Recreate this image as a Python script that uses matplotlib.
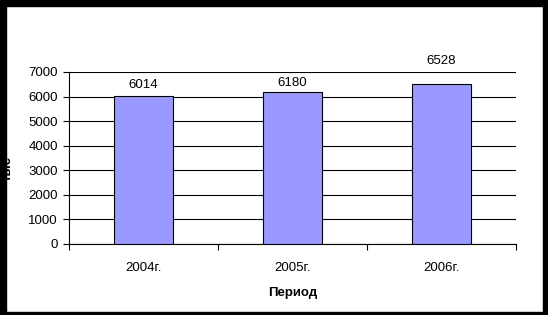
import matplotlib.pyplot as plt
from matplotlib.patches import Rectangle
import numpy as np

plt.rcParams['font.family'] = ['Liberation Sans', 'DejaVu Sans']

periods = ['2004г.', '2005г.', '2006г.']
values = [6014, 6180, 6528]
yticks = [0, 1000, 2000, 3000, 4000, 5000, 6000, 7000]

# gap (pixels) between bar top and its value label, as placed in the original
label_gap = [8, 6, 20]

W, H = 548, 315
fig = plt.figure(figsize=(W / 100, H / 100), dpi=100)
fig.patch.set_facecolor('white')

# plot area in pixels: x 69..516, y 72..244
ax = fig.add_axes([69 / W, (H - 244) / H, 447 / W, 172 / H])

x = np.arange(len(periods))
ax.bar(x, values, width=0.4, color='#9999FF', edgecolor='black', linewidth=0.8, zorder=3)

fs = 9.5
for xi, v, g in zip(x, values, label_gap):
    ax.annotate(str(v), (xi, v), xytext=(0, g), textcoords='offset pixels',
                ha='center', va='baseline', fontsize=fs)

ax.set_xlim(-0.5, len(periods) - 0.5)
ax.set_ylim(0, 7000)
ax.set_yticks(yticks)
ax.set_yticklabels([str(t) for t in yticks], fontsize=fs)
ax.yaxis.grid(True, color='black', linewidth=0.8, zorder=1)

# category labels centred, tick marks on the boundaries
ax.set_xticks(x)
ax.set_xticklabels(periods, fontsize=fs)
ax.tick_params(axis='x', length=0, pad=13)
ax.set_xticks(np.arange(-0.5, len(periods)), minor=True)
ax.tick_params(axis='x', which='minor', length=4, width=0.8, direction='out')
ax.tick_params(axis='y', length=4, width=0.8, direction='out', pad=4)

for s in ['top', 'right']:
    ax.spines[s].set_visible(False)
for s in ['left', 'bottom']:
    ax.spines[s].set_linewidth(0.8)

ax.set_xlabel('Период', fontsize=fs, fontweight='bold', labelpad=9)
fig.text(14 / W, 1 - 168 / H, 'тыс', rotation=90, ha='right', va='center',
         fontsize=fs, fontweight='bold')

# black frame around the chart
frame = [(0, 0, 6, H), (0, 0, W, 6), (543, 0, W - 543, H), (0, 312, W, H - 312)]
for (fx, fy, fw, fh) in frame:
    fig.patches.append(Rectangle((fx / W, 1 - (fy + fh) / H), fw / W, fh / H,
                                 transform=fig.transFigure, color='black',
                                 zorder=10))

fig.savefig('out.png', dpi=100)
